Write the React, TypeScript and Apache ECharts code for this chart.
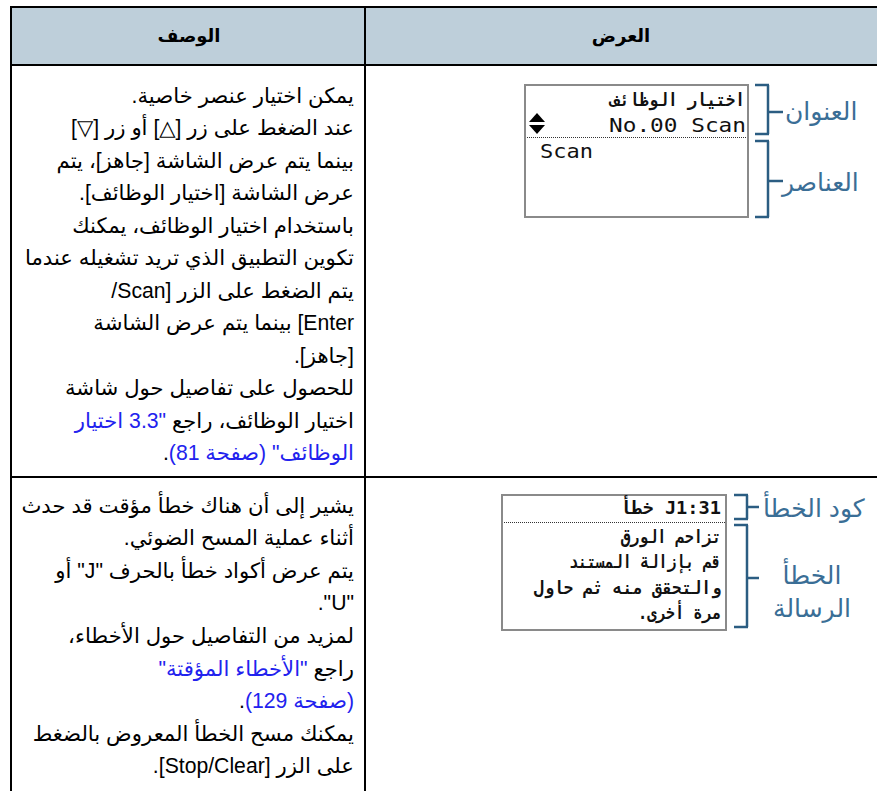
import React, { useEffect, useRef } from 'react';
import * as echarts from 'echarts';

// ---------- content ----------
const headerLabels = ['الوصف', 'العرض'];

type Seg = { t: string; c: 'k' | 'b' };
const row1Lines: Seg[][] = [
  [{ t: 'يمكن اختيار عنصر خاصية.', c: 'k' }],
  [{ t: 'عند الضغط على زر [△] أو زر [▽]', c: 'k' }],
  [{ t: 'بينما يتم عرض الشاشة [جاهز]، يتم', c: 'k' }],
  [{ t: 'عرض الشاشة [اختيار الوظائف].', c: 'k' }],
  [{ t: 'باستخدام اختيار الوظائف، يمكنك', c: 'k' }],
  [{ t: 'تكوين التطبيق الذي تريد تشغيله عندما', c: 'k' }],
  [{ t: 'يتم الضغط على الزر [Scan/', c: 'k' }],
  [{ t: 'Enter] بينما يتم عرض الشاشة', c: 'k' }],
  [{ t: '[جاهز].', c: 'k' }],
  [{ t: 'للحصول على تفاصيل حول شاشة', c: 'k' }],
  [{ t: 'اختيار الوظائف، راجع', c: 'k' }, { t: '"3.3 اختيار', c: 'b' }],
  [{ t: 'الوظائف" (صفحة 81)', c: 'b' }, { t: '.', c: 'k' }],
];
const row2Lines: Seg[][] = [
  [{ t: 'يشير إلى أن هناك خطأ مؤقت قد حدث', c: 'k' }],
  [{ t: 'أثناء عملية المسح الضوئي.', c: 'k' }],
  [{ t: 'يتم عرض أكواد خطأ بالحرف "J" أو', c: 'k' }],
  [{ t: '"U".', c: 'k' }],
  [{ t: 'لمزيد من التفاصيل حول الأخطاء،', c: 'k' }],
  [{ t: 'راجع', c: 'k' }, { t: '"الأخطاء المؤقتة"', c: 'b' }],
  [{ t: '(صفحة 129)', c: 'b' }, { t: '.', c: 'k' }],
  [{ t: 'يمكنك مسح الخطأ المعروض بالضغط', c: 'k' }],
  [{ t: 'على الزر [Stop/Clear].', c: 'k' }],
];

const lcd1Title = 'اختيار الوظائف';
const lcd1Profile = 'No.00 Scan';
const lcd1Item = 'Scan';
const lcd1Labels = ['العنوان', 'العناصر'];

const lcd2Code = 'J1:31 خطأ';
const lcd2Message = ['تزاحم الورق', 'قم بإزالة المستند', 'والتحقق منه ثم حاول', 'مرة أخرى.'];
const lcd2Labels = ['كود الخطأ', 'الخطأ', 'الرسالة'];

// ---------- helpers ----------
const FONT_FAMILY = '"Liberation Sans", "DejaVu Sans", Arial, sans-serif';
const MONO = '"DejaVu Sans Mono", "DejaVu Sans", monospace';
const rtl = (s: string) => '\u202B' + s + '\u202C';

let ctx: CanvasRenderingContext2D | null = null;
function measure(text: string, font: string): number {
  if (!ctx) ctx = document.createElement('canvas').getContext('2d');
  if (!ctx) return text.length * 8;
  ctx.font = font;
  return ctx.measureText(text).width;
}

const BODY_SIZE = 21.2;
const BLUE = '#2222EE';
const BLACK = '#000000';
const LABEL_BLUE = '#3A6E96';
const BRACKET = '#2B5D82';

function bodyLines(lines: Seg[][], xRight: number, y0: number, dy: number) {
  const els: any[] = [];
  const font = `${BODY_SIZE}px ${FONT_FAMILY}`;
  const gap = measure(' ', font);
  lines.forEach((segs, i) => {
    let x = xRight;
    segs.forEach((s, j) => {
      els.push({
        type: 'text',
        x,
        y: y0 + i * dy,
        style: {
          text: rtl(s.t),
          fill: s.c === 'b' ? BLUE : BLACK,
          font,
          textAlign: 'right',
          verticalAlign: 'middle',
          textVerticalAlign: 'middle',
        },
      });
      const w = measure(s.t, font);
      const next = segs[j + 1];
      x -= w + (next && next.t !== '.' ? gap : 0);
    });
  });
  return els;
}

function fitText(text: string, xRight: number, y: number, targetW: number, size: number, family: string, opts: any = {}) {
  const font = `${opts.weight || 'normal'} ${size}px ${family}`;
  const w = measure(text, font);
  return {
    type: 'text',
    x: xRight,
    y,
    scaleX: targetW / w,
    style: {
      text: rtl(text),
      fill: opts.fill || '#111',
      font,
      textAlign: 'right',
      verticalAlign: 'middle',
      textVerticalAlign: 'middle',
    },
  };
}

function bracket(x: number, y1: number, y2: number, ym: number, tickIn: number, tickOut: number) {
  const st = { stroke: BRACKET, lineWidth: 2.5 };
  return [
    { type: 'line', shape: { x1: x, y1, x2: x, y2 }, style: st },
    { type: 'line', shape: { x1: x - tickIn, y1, x2: x + 1, y2: y1 }, style: st },
    { type: 'line', shape: { x1: x - tickIn, y1: y2, x2: x + 1, y2 }, style: st },
    { type: 'line', shape: { x1: x, y1: ym, x2: x + tickOut, y2: ym }, style: st },
  ];
}

function label(text: string, x: number, y: number, align: string = 'left') {
  return {
    type: 'text',
    x,
    y,
    style: {
      text: rtl(text),
      fill: LABEL_BLUE,
      font: `25px ${FONT_FAMILY}`,
      textAlign: align,
      verticalAlign: 'middle',
      textVerticalAlign: 'middle',
    },
  };
}

function buildGraphics() {
  const g: any[] = [];
  const line = (x1: number, y1: number, x2: number, y2: number, w = 2, color = '#000') => ({
    type: 'line',
    shape: { x1, y1, x2, y2 },
    style: { stroke: color, lineWidth: w },
  });

  // header background
  g.push({ type: 'rect', shape: { x: 11, y: 7, width: 866, height: 58 }, style: { fill: '#BECFDA' } });
  // grid lines
  g.push(line(10, 7, 877, 7));
  g.push(line(11, 6, 11, 791));
  g.push(line(365, 6, 365, 791));
  g.push(line(10, 65, 877, 65));
  g.push(line(10, 477, 877, 477));

  // header texts
  const hFont = `bold 18px ${FONT_FAMILY}`;
  g.push({
    type: 'text', x: 189, y: 36,
    style: { text: headerLabels[0], fill: '#000', font: hFont, textAlign: 'center', verticalAlign: 'middle', textVerticalAlign: 'middle' },
  });
  g.push({
    type: 'text', x: 621, y: 36,
    style: { text: headerLabels[1], fill: '#000', font: hFont, textAlign: 'center', verticalAlign: 'middle', textVerticalAlign: 'middle' },
  });

  // body text
  g.push(...bodyLines(row1Lines, 354, 95, 32.5));
  g.push(...bodyLines(row2Lines, 354, 505, 32.6));

  // ---- LCD 1 ----
  g.push({ type: 'rect', shape: { x: 525, y: 85, width: 223, height: 132 }, style: { fill: '#fff', stroke: '#8A8A8A', lineWidth: 2 } });
  g.push(fitText(lcd1Title, 745, 100, 135, 18, MONO, { weight: 'bold' }));
  g.push(fitText(lcd1Profile, 746, 126, 137, 19, MONO));
  g.push(fitText(lcd1Item, 593, 152, 53, 19, MONO));
  g.push({ type: 'polygon', shape: { points: [[529, 122], [545, 122], [537, 113]] }, style: { fill: '#000' } });
  g.push({ type: 'polygon', shape: { points: [[529, 125], [545, 125], [537, 134]] }, style: { fill: '#000' } });
  g.push({ type: 'line', shape: { x1: 527, y1: 137.5, x2: 747, y2: 137.5 }, style: { stroke: '#333', lineWidth: 1, lineDash: [1, 1] } });
  g.push(...bracket(768, 85, 134, 112, 13, 15));
  g.push(...bracket(768, 141, 217, 181, 13, 15));
  g.push(label(lcd1Labels[0], 785, 111));
  g.push(label(lcd1Labels[1], 782, 182));

  // ---- LCD 2 ----
  g.push({ type: 'rect', shape: { x: 502, y: 495, width: 224, height: 135 }, style: { fill: '#fff', stroke: '#8A8A8A', lineWidth: 2 } });
  g.push(fitText(lcd2Code, 721, 508, 101, 18, MONO, { weight: 'bold' }));
  g.push({ type: 'line', shape: { x1: 504, y1: 522.5, x2: 725, y2: 522.5 }, style: { stroke: '#333', lineWidth: 1, lineDash: [1, 1] } });
  const msgW = [100, 152, 187, 83];
  lcd2Message.forEach((m, i) => g.push(fitText(m, 721, 537 + i * 25.3, msgW[i], 18, MONO, { weight: 'bold' })));
  g.push(...bracket(747, 495, 519, 507, 13, 12));
  g.push(...bracket(747, 525, 627, 578, 13, 12));
  g.push(label(lcd2Labels[0], 763, 508));
  g.push(label(lcd2Labels[1], 812, 575, 'center'));
  g.push(label(lcd2Labels[2], 812, 608, 'center'));

  return g;
}

export default function App() {
  const ref = useRef<HTMLDivElement>(null);
  useEffect(() => {
    if (!ref.current) return;
    const chart = echarts.init(ref.current, null, { renderer: 'svg' });
    chart.setOption({
      animation: false,
      backgroundColor: '#ffffff',
      graphic: { elements: buildGraphics() },
    });
    return () => chart.dispose();
  }, []);
  return (
    <div
      ref={ref}
      style={{ position: 'fixed', left: 0, top: 0, width: 877, height: 791, background: '#fff' }}
    />
  );
}
